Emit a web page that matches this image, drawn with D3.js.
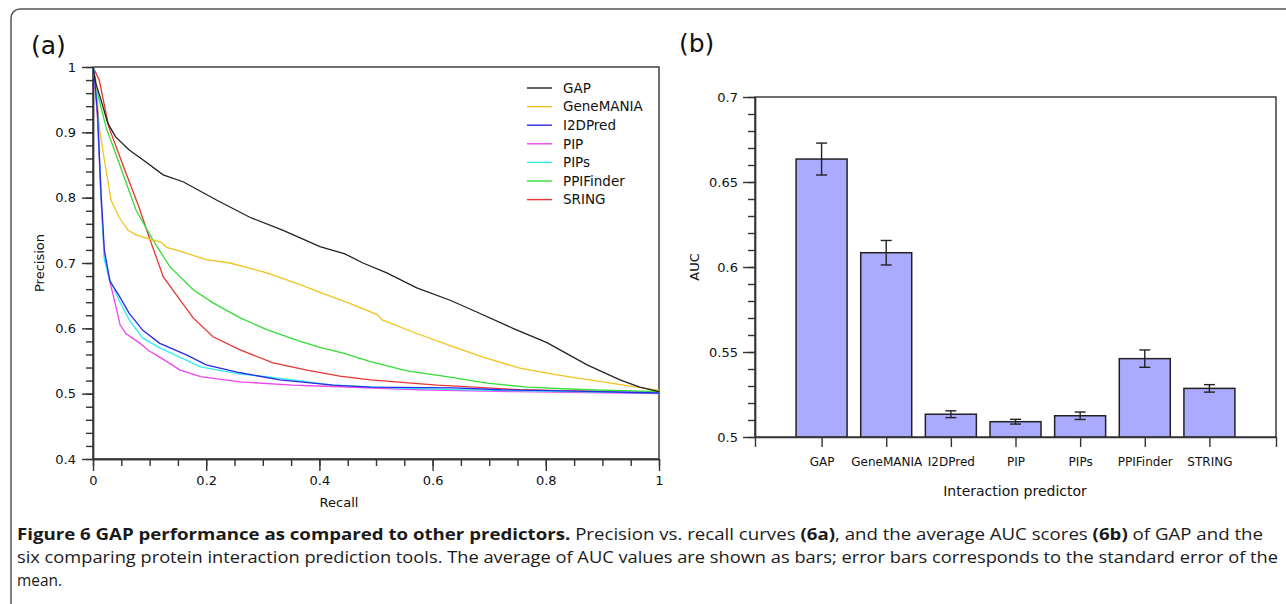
<!DOCTYPE html>
<html>
<head>
<meta charset="utf-8">
<script src="https://cdn.jsdelivr.net/npm/d3@7"></script>
<style>
  body { margin: 0; background: #fff; }
  svg { display: block; }
  .tick text { font-family: "DejaVu Sans", sans-serif; fill: #111; }
  .axis path, .axis line { stroke: #333; stroke-width: 1.4; }
</style>
</head>
<body>
<div id="fig"></div>
<script>
// ---- panel (a): precision vs recall curves ----
var seriesNames = ["GAP", "GeneMANIA", "I2DPred", "PIP", "PIPs", "PPIFinder", "SRING"];
var seriesColors = ["#222222", "#f2c21b", "#2a2ae6", "#ee44ee", "#33eeee", "#33dd33", "#e83434"];

var gapRecall = [0, 0.005, 0.014, 0.026, 0.04, 0.064, 0.088, 0.124, 0.16, 0.219, 0.277, 0.336, 0.401, 0.445, 0.477, 0.519, 0.572, 0.631, 0.678, 0.742, 0.802, 0.873, 0.931, 0.966, 1];
var gapPrec   = [1, 0.975, 0.95, 0.914, 0.893, 0.873, 0.858, 0.835, 0.824, 0.796, 0.770, 0.750, 0.725, 0.714, 0.700, 0.685, 0.662, 0.643, 0.625, 0.600, 0.578, 0.544, 0.521, 0.510, 0.503];

var genemaniaRecall = [0, 0.005, 0.011, 0.02, 0.032, 0.046, 0.062, 0.076, 0.106, 0.12, 0.13, 0.154, 0.2, 0.242, 0.307, 0.366, 0.401, 0.436, 0.46, 0.502, 0.511, 0.566, 0.636, 0.689, 0.754, 0.825, 0.901, 0.961, 1];
var genemaniaPrec   = [1, 0.98, 0.908, 0.858, 0.796, 0.770, 0.750, 0.743, 0.735, 0.732, 0.724, 0.718, 0.705, 0.700, 0.685, 0.667, 0.655, 0.644, 0.636, 0.621, 0.613, 0.594, 0.572, 0.556, 0.539, 0.528, 0.518, 0.510, 0.505];

var i2dRecall = [0, 0.002, 0.008, 0.014, 0.02, 0.03, 0.046, 0.064, 0.088, 0.118, 0.166, 0.2, 0.26, 0.33, 0.424, 0.49, 0.636, 0.72, 0.85, 1];
var i2dPrec   = [1, 0.99, 0.93, 0.81, 0.72, 0.672, 0.650, 0.623, 0.597, 0.577, 0.559, 0.544, 0.532, 0.521, 0.513, 0.510, 0.509, 0.506, 0.504, 0.501];

var pipRecall = [0, 0.002, 0.008, 0.014, 0.02, 0.026, 0.04, 0.048, 0.058, 0.083, 0.1, 0.118, 0.154, 0.19, 0.26, 0.353, 0.424, 0.578, 0.75, 1];
var pipPrec   = [1, 0.99, 0.92, 0.80, 0.71, 0.685, 0.635, 0.605, 0.592, 0.577, 0.565, 0.556, 0.536, 0.526, 0.518, 0.513, 0.511, 0.506, 0.503, 0.500];

var pipsRecall = [0, 0.002, 0.008, 0.014, 0.02, 0.028, 0.046, 0.064, 0.088, 0.118, 0.19, 0.26, 0.307, 0.424, 0.55, 0.7, 0.85, 1];
var pipsPrec   = [1, 0.995, 0.934, 0.807, 0.705, 0.679, 0.643, 0.613, 0.585, 0.570, 0.541, 0.530, 0.526, 0.513, 0.508, 0.505, 0.503, 0.501];

var ppiRecall = [0, 0.005, 0.023, 0.046, 0.076, 0.106, 0.136, 0.177, 0.212, 0.26, 0.307, 0.366, 0.401, 0.442, 0.49, 0.555, 0.625, 0.696, 0.767, 0.873, 1];
var ppiPrec   = [1, 0.97, 0.908, 0.853, 0.781, 0.735, 0.694, 0.659, 0.639, 0.616, 0.598, 0.580, 0.571, 0.562, 0.549, 0.535, 0.526, 0.516, 0.510, 0.506, 0.503];

var sringRecall = [0, 0.011, 0.028, 0.058, 0.081, 0.099, 0.124, 0.154, 0.177, 0.212, 0.26, 0.318, 0.378, 0.436, 0.49, 0.608, 0.754, 1];
var sringPrec   = [1, 0.98, 0.908, 0.838, 0.786, 0.74, 0.679, 0.643, 0.616, 0.587, 0.567, 0.547, 0.536, 0.527, 0.521, 0.513, 0.506, 0.501];

var recallTicks = [0, 0.2, 0.4, 0.6, 0.8, 1];
var precTicks = [0.4, 0.5, 0.6, 0.7, 0.8, 0.9, 1];

// ---- panel (b): AUC bars ----
var predictors = ["GAP", "GeneMANIA", "I2DPred", "PIP", "PIPs", "PPIFinder", "STRING"];
var aucMean = [0.6635, 0.6084, 0.5134, 0.5090, 0.5125, 0.5461, 0.5286];
var aucErr  = [0.0094, 0.0072, 0.0020, 0.0014, 0.0022, 0.0051, 0.0022];
var aucTicks = [0.5, 0.55, 0.6, 0.65, 0.7];

var svgWidth = 1286;
var svgHeight = 604;

var svg = d3.select("#fig")
  .append("svg")
  .attr("width", svgWidth)
  .attr("height", svgHeight);

// outer frame (runs off the bottom/right edge)
svg.append("rect")
  .attr("x", 11).attr("y", 9)
  .attr("width", 1400).attr("height", 800)
  .attr("rx", 9)
  .attr("fill", "none")
  .attr("stroke", "#555")
  .attr("stroke-width", 1.5);

// panel letters
svg.append("text").attr("x", 31).attr("y", 54)
  .style("font-family", "DejaVu Sans, sans-serif").style("font-size", "25px").attr("fill", "#111")
  .text("(a)");
svg.append("text").attr("x", 679).attr("y", 52)
  .style("font-family", "DejaVu Sans, sans-serif").style("font-size", "25px").attr("fill", "#111")
  .text("(b)");

// ===== panel (a) =====
var xA = d3.scaleLinear().domain([0, 1]).range([93, 659]);
var yA = d3.scaleLinear().domain([0.4, 1]).range([459, 67]);
var fmt = d => String(+d.toFixed(2));

var gA = svg.append("g");

gA.append("rect")
  .attr("x", xA(0)).attr("y", yA(1))
  .attr("width", xA(1) - xA(0)).attr("height", yA(0.4) - yA(1))
  .attr("fill", "none").attr("stroke", "#333").attr("stroke-width", 1.4);

// minor ticks
gA.append("g").attr("class", "axis")
  .attr("transform", `translate(0,${yA(0.4)})`)
  .call(d3.axisBottom(xA).tickValues(d3.range(0, 21).map(i => i * 0.05)).tickSize(7).tickFormat("").tickSizeOuter(0));
gA.append("g").attr("class", "axis")
  .attr("transform", `translate(${xA(0)},0)`)
  .call(d3.axisLeft(yA).tickValues(d3.range(0, 31).map(i => 0.4 + i * 0.02)).tickSize(7).tickFormat("").tickSizeOuter(0));

// major ticks
gA.append("g").attr("class", "axis")
  .attr("transform", `translate(0,${yA(0.4)})`)
  .call(d3.axisBottom(xA).tickValues(recallTicks).tickSize(12).tickPadding(5).tickFormat(fmt).tickSizeOuter(0))
  .selectAll("text").style("font-size", "13px");
gA.append("g").attr("class", "axis")
  .attr("transform", `translate(${xA(0)},0)`)
  .call(d3.axisLeft(yA).tickValues(precTicks).tickSize(11).tickPadding(6).tickFormat(fmt).tickSizeOuter(0))
  .selectAll("text").style("font-size", "13px");

gA.append("text")
  .attr("transform", `translate(44, ${(yA(0.4) + yA(1)) / 2}) rotate(-90)`)
  .attr("text-anchor", "middle")
  .style("font-family", "DejaVu Sans, sans-serif").style("font-size", "13px").attr("fill", "#111")
  .text("Precision");
gA.append("text")
  .attr("x", 339).attr("y", 507)
  .attr("text-anchor", "middle")
  .style("font-family", "DejaVu Sans, sans-serif").style("font-size", "13px").attr("fill", "#111")
  .text("Recall");

var curveData = [
  [gapRecall, gapPrec],
  [genemaniaRecall, genemaniaPrec],
  [i2dRecall, i2dPrec],
  [pipRecall, pipPrec],
  [pipsRecall, pipsPrec],
  [ppiRecall, ppiPrec],
  [sringRecall, sringPrec]
].map((s, i) => ({ name: seriesNames[i], color: seriesColors[i], pts: s[0].map((r, j) => [r, s[1][j]]) }));

var line = d3.line().x(d => xA(d[0])).y(d => yA(d[1]));

// draw in back-to-front order similar to the original
var drawOrder = [6, 5, 1, 3, 4, 2, 0];
gA.selectAll("path.curve")
  .data(drawOrder.map(i => curveData[i]))
  .enter()
  .append("path")
  .attr("class", "curve")
  .attr("d", d => line(d.pts))
  .attr("fill", "none")
  .attr("stroke", d => d.color)
  .attr("stroke-width", 1.3);

// legend
var legend = gA.selectAll("g.leg")
  .data(curveData)
  .enter()
  .append("g")
  .attr("class", "leg")
  .attr("transform", (d, i) => `translate(527, ${88 + i * 18.6})`);
legend.append("line")
  .attr("x1", 0).attr("x2", 25)
  .attr("stroke", d => d.color).attr("stroke-width", 1.4);
legend.append("text")
  .attr("x", 36).attr("dy", "0.35em")
  .style("font-family", "DejaVu Sans, sans-serif").style("font-size", "13.5px").attr("fill", "#111")
  .text(d => d.name);

// ===== panel (b) =====
var xB = d3.scalePoint().domain(predictors).range([755, 1276]).padding(1.03);
var yB = d3.scaleLinear().domain([0.5, 0.7]).range([437, 97]);
var barW = 51;

var gB = svg.append("g");

gB.append("rect")
  .attr("x", 755).attr("y", yB(0.7))
  .attr("width", 1276 - 755).attr("height", yB(0.5) - yB(0.7))
  .attr("fill", "none").attr("stroke", "#333").attr("stroke-width", 1.4);

var bars = predictors.map((p, i) => ({ name: p, mean: aucMean[i], err: aucErr[i] }));

gB.selectAll("rect.bar")
  .data(bars)
  .enter()
  .append("rect")
  .attr("class", "bar")
  .attr("x", d => xB(d.name) - barW / 2)
  .attr("y", d => yB(d.mean))
  .attr("width", barW)
  .attr("height", d => yB(0.5) - yB(d.mean))
  .attr("fill", "#aaaaff")
  .attr("stroke", "#222")
  .attr("stroke-width", 1.5);

var eb = gB.selectAll("g.err")
  .data(bars)
  .enter()
  .append("g")
  .attr("class", "err")
  .attr("stroke", "#222").attr("stroke-width", 1.4);
eb.append("line")
  .attr("x1", d => xB(d.name)).attr("x2", d => xB(d.name))
  .attr("y1", d => yB(d.mean + d.err)).attr("y2", d => yB(d.mean - d.err));
eb.append("line")
  .attr("x1", d => xB(d.name) - 5.5).attr("x2", d => xB(d.name) + 5.5)
  .attr("y1", d => yB(d.mean + d.err)).attr("y2", d => yB(d.mean + d.err));
eb.append("line")
  .attr("x1", d => xB(d.name) - 5.5).attr("x2", d => xB(d.name) + 5.5)
  .attr("y1", d => yB(d.mean - d.err)).attr("y2", d => yB(d.mean - d.err));

gB.append("g").attr("class", "axis")
  .attr("transform", `translate(${755},0)`)
  .call(d3.axisLeft(yB).tickValues(d3.range(0, 21).map(i => 0.5 + i * 0.01)).tickSize(7).tickFormat("").tickSizeOuter(0));
gB.append("g").attr("class", "axis")
  .attr("transform", `translate(${755},0)`)
  .call(d3.axisLeft(yB).tickValues(aucTicks).tickSize(12).tickPadding(5).tickFormat(fmt).tickSizeOuter(0))
  .selectAll("text").style("font-size", "13px");
gB.append("g").attr("class", "axis")
  .attr("transform", `translate(0,${yB(0.5)})`)
  .call(d3.axisBottom(xB).tickSize(10).tickSizeOuter(10).tickPadding(10))
  .selectAll("text").style("font-size", "12px");

gB.append("text")
  .attr("transform", `translate(699, ${(yB(0.5) + yB(0.7)) / 2}) rotate(-90)`)
  .attr("text-anchor", "middle")
  .style("font-family", "DejaVu Sans, sans-serif").style("font-size", "13px").attr("fill", "#111")
  .text("AUC");
gB.append("text")
  .attr("x", 1015).attr("y", 496)
  .attr("text-anchor", "middle")
  .style("font-family", "DejaVu Sans, sans-serif").style("font-size", "14px").attr("fill", "#111")
  .text("Interaction predictor");

// ===== caption =====
var cap = svg.append("g")
  .style("font-family", "Open Sans, sans-serif")
  .style("font-size", "16.5px")
  .attr("fill", "#1a1a1a");

var l1 = cap.append("text").attr("x", 17).attr("y", 540)
  .attr("textLength", 1246).attr("lengthAdjust", "spacingAndGlyphs");
l1.append("tspan").style("font-weight", "bold").text("Figure 6 GAP performance as compared to other predictors.");
l1.append("tspan").text(" Precision vs. recall curves ");
l1.append("tspan").style("font-weight", "bold").text("(6a)");
l1.append("tspan").text(", and the average AUC scores ");
l1.append("tspan").style("font-weight", "bold").text("(6b)");
l1.append("tspan").text(" of GAP and the");

cap.append("text").attr("x", 17).attr("y", 563)
  .attr("textLength", 1261).attr("lengthAdjust", "spacingAndGlyphs")
  .text("six comparing protein interaction prediction tools. The average of AUC values are shown as bars; error bars corresponds to the standard error of the");

cap.append("text").attr("x", 17).attr("y", 586)
  .attr("textLength", 45).attr("lengthAdjust", "spacingAndGlyphs")
  .text("mean.");
</script>
</body>
</html>
